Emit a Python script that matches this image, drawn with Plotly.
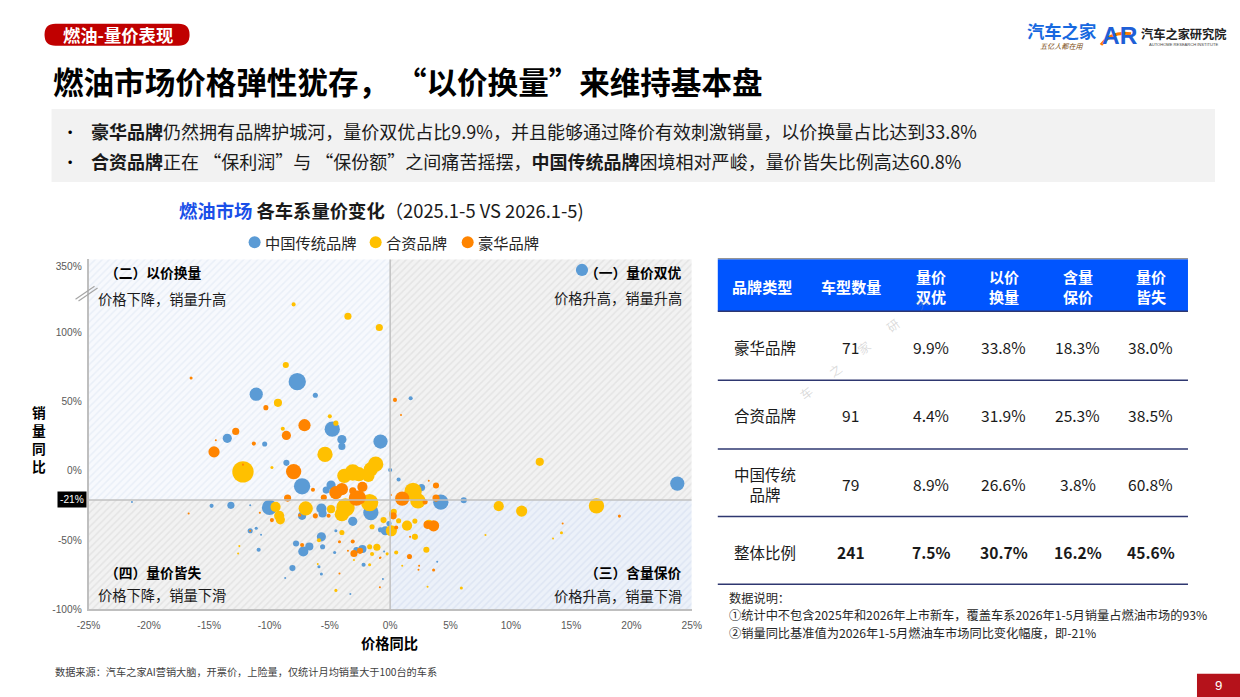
import plotly.graph_objects as go

# reference slide size and the figure size
W, H = 1240, 697
FIG_W, FIG_H = 1250, 704
# the photographed page is slightly squeezed; place items so they land on the reference pixels
SX, OX = 0.982, 12.5
SY, OY = 0.99, -0.8
FS = 1 / SX

# ---------------- data ----------------
# 中国传统品牌 (price YoY %, sales YoY %, bubble size)
cn_price = [15.9, -7.7, -11.1, -6.2, -4.8, -13.5, -10.4, -4.0, -4.0, -0.8,
            -8.6, 0.0, 0.7, -7.3, -5.3, -4.9, -14.8, -13.2, -11.6, -10.0,
            -5.7, -5.6, -7.3, -1.6, -3.1, -11.6, -11.1, -10.7, -5.7, -4.5,
            -7.8, -7.2, -6.7, -5.6, -4.6, -2.3, -2.8, -8.1, -5.9, -5.7,
            -2.2, -3.3, -0.6, -8.7, -21.4, 23.8, 6.1, 4.2, 2.6, 1.7,
            -0.1, -0.4, -0.8, 3.9, -0.5, -10.9]
cn_sales = [338, 64.5, 55.4, 54.7, 30.1, 23.5, 19.4, 22.7, 17.7, 21.2,
            5.8, 0.6, -6.3, -11.2, -13.9, -10.3, -25.3, -24.9, -24.8, -26.4,
            -27.2, -30.8, -32.5, -30.1, -36.5, -43.3, -41.5, -46.2, -47.7, -43.3,
            -52.5, -58.3, -54.7, -54.9, -59.0, -56.5, -57.3, -70.3, -69.3, -74.6,
            -67.9, -89.0, -78.2, -77.5, -22.5, -9.2, -21.2, -22.6, -12.1, 52.5,
            -38.0, -43.3, -42.6, -65.7, -58.3, -57.0]
cn_size = [12, 17, 13, 5, 15, 9, 5, 9, 7, 14,
           6, 4, 4, 16, 7, 9, 4, 7, 2, 15,
           10, 8, 8, 15, 9, 5, 3, 2, 9, 3,
           6, 10, 8, 5, 3, 8, 6, 6, 3, 3,
           4, 2, 2, 2, 2, 14, 6, 15, 7, 4,
           5, 9, 5, 2, 2, 4]

# 合资品牌
jv_price = [-8.0, -3.5, -0.9, -8.65, -9.3, -5.0, -4.5, -5.4, -12.2, -9.8,
            -8.9, -1.2, -1.6, -3.1, -3.8, -2.6, -1.8, -1.7, -3.7, -4.0,
            -4.9, -9.5, -9.2, -9.1, -7.0, -5.9, -4.0, -1.5, -1.7, -1.1,
            -1.5, -12.5, -12.6, -4.5, 12.4, 9.0, 10.9, 17.1, 14.2, 13.5,
            7.9, 5.9, 3.1, 1.9, 2.3, 0.3, 0.2, -0.55, 0.1, 0.7,
            1.4, 2.05, 3.2, 2.05, 3.0, 0.5, -0.25, 1.0, -3.0, -1.7,
            -6.0]
jv_sales = [207, 162, 119, 76.5, 49.2, 39.4, 34.5, 11.9, -0.7, 2.4,
            30.5, 4.8, 1.2, -1.2, -3.6, -2.4, -3.6, -22.9, -26.5, -31.3,
            -27.7, -26.0, -32.5, -35.4, -27.2, -50.2, -44.5, -40.4, -54.9, -55.2,
            -60.1, -54.4, -59.7, -86.4, 6.5, -25.5, -29.1, -25.3, -44.8, -48.9,
            -46.4, -84.7, -83.8, -14.9, -21.7, -29.6, -30.8, -35.6, -43.3, -36.1,
            -39.6, -36.3, -38.6, -47.7, -57.0, -59.0, -60.0, -68.6, -64.5, -67.9,
            -67.4]
jv_size = [4, 7, 7, 6, 8, 4, 5, 15, 21, 3,
           4, 15, 14, 16, 14, 14, 12, 17, 18, 14,
           8, 10, 10, 9, 14, 4, 5, 5, 5, 7,
           4, 2, 2, 3, 8, 10, 11, 15, 3, 2,
           2, 3, 2, 17, 15, 6, 7, 6, 11, 5,
           10, 5, 9, 6, 6, 4, 3, 2, 2, 3,
           2]

# 豪华品牌
lx_price = [-16.5, -10.3, 0.4, -7.1, -12.8, -8.6, -14.45, -11.3, -14.6, -12.2,
            -8.0, -6.4, -4.5, -4.0, -3.1, -2.3, -2.8, -2.6, -5.5, -8.5,
            -16.7, -10.8, -9.8, -6.2, -5.1, -11.6, -7.3, -4.2, -3.1, -3.0,
            -2.5, -3.5, -0.85, -4.2, 19.0, 14.3, 3.8, 3.8, 3.2, 1.0,
            2.9, 0.06, 0.25, 0.5, 3.1, 3.6, 1.6, 3.6, 2.35, 2.4,
            0.9, -0.85, 1.65, -0.8, -7.5]
lx_sales = [67.1, 45.7, 51.3, 33.0, 28.5, 25.6, 22.2, 19.7, 13.7, 4.5,
            -0.5, -13.7, -15.7, -13.2, -14.4, -11.6, -19.7, -19.3, -19.3, -19.7,
            -30.8, -30.3, -35.6, -32.5, -32.5, -43.3, -53.6, -51.3, -51.0, -59.7,
            -57.8, -57.8, -63.0, -74.2, -32.7, -38.0, -19.7, -10.6, -7.2, -20.1,
            -22.4, -17.5, -32.5, -40.9, -39.0, -39.7, -61.9, -71.7, -71.5, -68.6,
            40.4, -84.2, -47.7, -62.6, -32.0]
lx_size = [3, 5, 4, 12, 7, 9, 2, 4, 11, 2,
           15, 4, 13, 12, 7, 10, 15, 14, 6, 7,
           2, 2, 4, 5, 4, 2, 4, 3, 4, 7,
           6, 2, 2, 2, 3, 2, 7, 6, 2, 14,
           5, 2, 7, 4, 8, 11, 5, 3, 2, 2,
           2, 2, 2, 2, 3]

series_names = ["中国传统品牌", "合资品牌", "豪华品牌"]
series_colors = ["#5B9BD5", "#FFC000", "#FF8400"]

x_ticks = [-25, -20, -15, -10, -5, 0, 5, 10, 15, 20, 25]
y_ticks = [-100, -50, 0, 50, 100, 350]
baseline = -21  # 燃油车市场同比

# table
tbl_header = ["品牌类型", "车型数量", "量价<br>双优", "以价<br>换量", "含量<br>保价", "量价<br>皆失"]
tbl_brand = ["豪华品牌", "合资品牌", "中国传统<br>品牌", "整体比例"]
tbl_count = [71, 91, 79, 241]
tbl_both_good = [9.9, 4.4, 8.9, 7.5]
tbl_price_for_vol = [33.8, 31.9, 26.6, 30.7]
tbl_vol_keep_price = [18.3, 25.3, 3.8, 16.2]
tbl_both_lost = [38.0, 38.5, 60.8, 45.6]

# ---------------- helpers ----------------
def px(x):
    return ((x - OX) / SX) / FIG_W

def py(y):
    return 1 - ((y - OY) / SY) / FIG_H

def f(s):
    return round(s * FS, 2)

BREAK, K = 100, 0.19   # broken y-axis above 100%

def compress(v):
    return v if v <= BREAK else BREAK + (v - BREAK) * K

CJK = "Noto Sans CJK SC, Microsoft YaHei, sans-serif"
ARIAL = "Liberation Sans, Arial, sans-serif"

X_MIN, X_MAX = -25, 25
Y_MIN, Y_MAX = -100, 153

fig = go.Figure()

# quadrant backgrounds (hatched)
quads = [
    (X_MIN, 0, baseline, Y_MAX, "#F7F9FD", "#DCE5F2"),
    (0, X_MAX, baseline, Y_MAX, "#F2F2F2", "#D6D6D6"),
    (X_MIN, 0, Y_MIN, baseline, "#F2F2F2", "#D6D6D6"),
    (0, X_MAX, Y_MIN, baseline, "#ECF1F9", "#CFDAEE"),
]
for x0, x1, y0, y1, bg, fg in quads:
    fig.add_trace(go.Scatter(
        x=[x0, x1, x1, x0, x0], y=[y0, y0, y1, y1, y0], mode="lines",
        fill="toself", fillcolor=bg,
        fillpattern=dict(shape="/", bgcolor=bg, fgcolor=fg, size=5, solidity=0.3),
        line=dict(width=0), hoverinfo="skip", showlegend=False))

for name, xs, ys, ss, col in zip(series_names,
                                 [cn_price, jv_price, lx_price],
                                 [cn_sales, jv_sales, lx_sales],
                                 [cn_size, jv_size, lx_size],
                                 series_colors):
    fig.add_trace(go.Scatter(
        x=xs, y=[compress(v) for v in ys], mode="markers", name=name,
        marker=dict(size=[f(s) for s in ss], color=col, line=dict(width=0), opacity=1),
        showlegend=False))

fig.update_xaxes(
    domain=[px(89), px(692)], range=[X_MIN, X_MAX],
    tickvals=x_ticks, ticktext=[f"{v}%" for v in x_ticks],
    showgrid=False, zeroline=False, showline=True, linecolor="#BFBFBF", linewidth=1.5,
    ticks="", ticklabelstandoff=6,
    tickfont=dict(family=ARIAL, size=f(10), color="#595959"), fixedrange=True)
fig.update_yaxes(
    domain=[py(607.5), py(258)], range=[Y_MIN, Y_MAX],
    tickvals=[compress(v) for v in y_ticks], ticktext=[f"{v}%" for v in y_ticks],
    showgrid=False, zeroline=False, showline=True, linecolor="#BFBFBF", linewidth=1.5,
    ticks="", ticklabelstandoff=3,
    tickfont=dict(family=ARIAL, size=f(10), color="#595959"), fixedrange=True)

shapes = []
# quadrant divider lines
shapes.append(dict(type="line", xref="x", yref="y", x0=0, x1=0, y0=Y_MIN, y1=Y_MAX,
                   line=dict(color="#C0C0C0", width=1.5)))
shapes.append(dict(type="line", xref="x", yref="y", x0=X_MIN, x1=X_MAX, y0=baseline, y1=baseline,
                   line=dict(color="#C0C0C0", width=1.5)))
# axis break mark
for dx in (0, 3):
    shapes.append(dict(type="line", xref="paper", yref="paper",
                       x0=px(76 + dx), y0=py(298 + dx * 0.6), x1=px(95 + dx), y1=py(285 + dx * 0.6),
                       line=dict(color="#A6A6A6", width=1.2)))


def rrect(x0, y0, x1, y1, r):
    X = lambda v: px(v)
    Y = lambda v: py(v)
    return (f"M {X(x0 + r)} {Y(y0)} L {X(x1 - r)} {Y(y0)} Q {X(x1)} {Y(y0)} {X(x1)} {Y(y0 + r)} "
            f"L {X(x1)} {Y(y1 - r)} Q {X(x1)} {Y(y1)} {X(x1 - r)} {Y(y1)} "
            f"L {X(x0 + r)} {Y(y1)} Q {X(x0)} {Y(y1)} {X(x0)} {Y(y1 - r)} "
            f"L {X(x0)} {Y(y0 + r)} Q {X(x0)} {Y(y0)} {X(x0 + r)} {Y(y0)} Z")

# red tag
shapes.append(dict(type="path", xref="paper", yref="paper", path=rrect(45, 23, 190, 45, 11),
                   fillcolor="#C00000", line=dict(width=0)))
# grey summary box
shapes.append(dict(type="rect", xref="paper", yref="paper", x0=px(52), x1=px(1215),
                   y0=py(181), y1=py(108), fillcolor="#F2F2F2", line=dict(width=0)))
# page number box
shapes.append(dict(type="rect", xref="paper", yref="paper", x0=px(1197), x1=1,
                   y0=0, y1=py(672), fillcolor="#B5121B", line=dict(width=0)))
# legend circles
leg_x = [255, 376, 468]
leg_tx = [263, 384, 476]
for cx, col in zip(leg_x, series_colors):
    shapes.append(dict(type="circle", xref="paper", yref="paper", xsizemode="pixel", ysizemode="pixel",
                       xanchor=px(cx), yanchor=py(241), x0=-6, x1=6, y0=-6, y1=6,
                       fillcolor=col, line=dict(width=0)))

# table
T_X0, T_X1 = 718, 1188
shapes.append(dict(type="rect", xref="paper", yref="paper", x0=px(T_X0), x1=px(T_X1),
                   y0=py(310), y1=py(258), fillcolor="#0055FF", line=dict(width=0)))
shapes.append(dict(type="line", xref="paper", yref="paper", x0=px(T_X0), x1=px(T_X1),
                   y0=py(257.5), y1=py(257.5), line=dict(color="#7F7F7F", width=1)))
row_lines = [310, 379, 447.5, 515, 582.5]
for yl in row_lines:
    shapes.append(dict(type="line", xref="paper", yref="paper", x0=px(T_X0), x1=px(T_X1),
                       y0=py(yl), y1=py(yl), line=dict(color="#2E3770", width=1.5)))

# logo swoosh
shapes.append(dict(type="path", xref="paper", yref="paper",
                   path=f"M {px(1101)} {py(44)} Q {px(1112)} {py(30)} {px(1131)} {py(33)}",
                   line=dict(color="#FF7A00", width=3)))

ann = []

def A(x, y, text, size, color="#000000", bold=False, xanchor="left", family=CJK, **kw):
    t = f"<b>{text}</b>" if bold else text
    d = dict(x=px(x), y=py(y), xref="paper", yref="paper", text=t, showarrow=False,
             xanchor=xanchor, yanchor="middle", font=dict(family=family, size=f(size), color=color))
    d.update(kw)
    ann.append(d)

A(118, 34, "燃油-量价表现", 17, "#FFFFFF", bold=True, xanchor="center")
A(51, 80, "燃油市场价格弹性犹存， “以价换量”来维持基本盘", 30, "#000000", bold=True)
A(60, 130, "•", 16, "#000000")
A(60, 160, "•", 16, "#000000")
A(89, 130, "<b>豪华品牌</b>仍然拥有品牌护城河，量价双优占比9.9%，并且能够通过降价有效刺激销量，以价换量占比达到33.8%",
  17.7, "#1A1A1A")
A(89, 160, "<b>合资品牌</b>正在 “保利润”与 “保份额”之间痛苦摇摆，<b>中国传统品牌</b>困境相对严峻，量价皆失比例高达60.8%",
  17.7, "#1A1A1A")

A(177, 209, "<span style='color:#1A4FE8'><b>燃油市场</b></span> <b>各车系量价变化</b>（2025.1-5 VS 2026.1-5)",
  18, "#1A1A1A")

for tx, name in zip(leg_tx, series_names):
    A(tx, 241, name, 15, "#262626")

# quadrant labels
A(103, 271, "（二）以价换量", 13.5, "#000000", bold=True)
A(96, 297, "价格下降，销量升高", 14, "#1A1A1A")
A(684, 271, "（一）量价双优", 13.5, "#000000", bold=True, xanchor="right")
A(684, 296, "价格升高，销量升高", 14, "#1A1A1A", xanchor="right")
A(103, 570, "（四）量价皆失", 13.5, "#000000", bold=True)
A(96, 593, "价格下降，销量下滑", 14, "#1A1A1A")
A(684, 570, "（三）含量保价", 13.5, "#000000", bold=True, xanchor="right")
A(684, 594, "价格升高，销量下滑", 14, "#1A1A1A", xanchor="right")

# axis titles
A(39, 438, "销<br>量<br>同<br>比", 13.5, "#000000", bold=True, xanchor="center")
A(390, 641, "价格同比", 14, "#000000", bold=True, xanchor="center")
ann.append(dict(x=px(87), y=baseline, xref="paper", yref="y", text=f"{baseline}%", showarrow=False,
                xanchor="right", yanchor="middle", bgcolor="#000000", borderpad=2,
                font=dict(family=ARIAL, size=f(10), color="#FFFFFF")))

A(53, 670, "数据来源：汽车之家AI营销大脑，开票价，上险量，仅统计月均销量大于100台的车系", 10, "#404040")

# table text
col_x = [762, 851, 931, 1004, 1078, 1151]
for cx, h in zip(col_x, tbl_header):
    A(cx, 285, h, 14.8, "#FFFFFF", bold=True, xanchor="center")
row_y = [346, 414, 482, 550]
for i, ry in enumerate(row_y):
    bold_row = (i == len(row_y) - 1)
    A(732, ry, tbl_brand[i], 15.2, "#1A1A1A", xanchor="left", align="center")
    vals = [f"{tbl_count[i]}", f"{tbl_both_good[i]:.1f}%", f"{tbl_price_for_vol[i]:.1f}%",
            f"{tbl_vol_keep_price[i]:.1f}%", f"{tbl_both_lost[i]:.1f}%"]
    for cx, v in zip(col_x[1:], vals):
        A(cx, ry, v, 15.3, "#1A1A1A", bold=bold_row, xanchor="center")

A(727, 596, "数据说明：", 12, "#262626")
A(727, 613, "①统计中不包含2025年和2026年上市新车，覆盖车系2026年1-5月销量占燃油市场的93%", 12, "#262626")
A(727, 631, "②销量同比基准值为2026年1-5月燃油车市场同比变化幅度，即-21%", 12, "#262626")

# watermark
A(850, 358, "汽\u3000\u3000车\u3000\u3000之\u3000\u3000家\u3000\u3000研\u3000\u3000究", 12,
  "rgba(150,150,150,0.35)", xanchor="center", textangle=-38)

# page number
A(1219, 684, "9", 13, "#FFFFFF", xanchor="center", family=ARIAL)

# logos
A(1062, 30, "汽车之家", 17, "#1769E0", bold=True, xanchor="center")
A(1062, 45, "<i>五亿人都在用</i>", 7, "#7A4A10", xanchor="center")
A(1120, 35, "<b>AR</b>", 24, "#1F5FD6", xanchor="center", family=ARIAL)
A(1184, 33, "汽车之家研究院", 12, "#222222", bold=True, xanchor="center")
A(1184, 44, "AUTOHOME RESEARCH INSTITUTE", 4, "#444444", xanchor="center", family=ARIAL)

fig.update_layout(
    width=FIG_W, height=FIG_H, autosize=False,
    margin=dict(l=0, r=0, t=0, b=0),
    paper_bgcolor="#FFFFFF", plot_bgcolor="#FFFFFF",
    shapes=shapes, annotations=ann, showlegend=False,
    font=dict(family=CJK),
)

fig.write_html("out.html", config={"displayModeBar": False})
